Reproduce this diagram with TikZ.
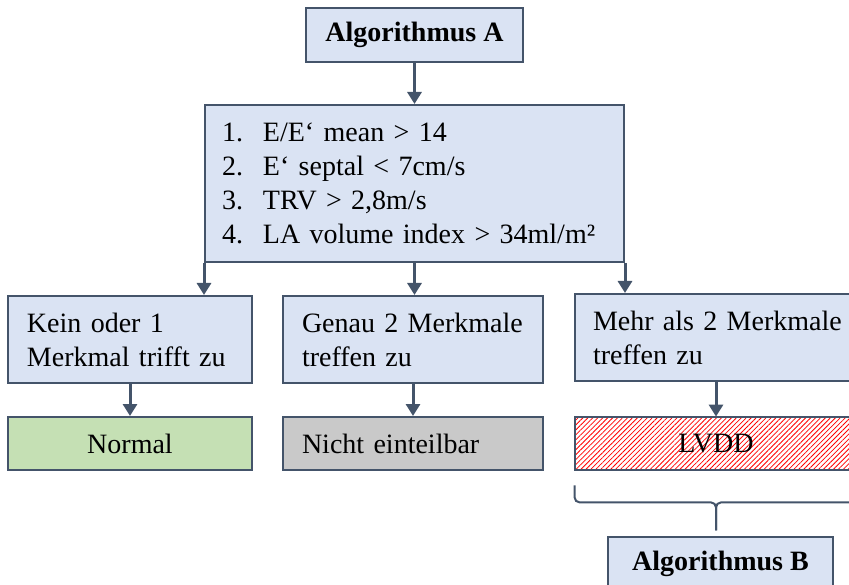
\documentclass[tikz,border=0pt]{standalone}
\usepackage{fontspec}
\setmainfont{Liberation Serif}
\usetikzlibrary{positioning}
\usetikzlibrary{arrows.meta}
\usetikzlibrary{patterns.meta}
\definecolor{boxblue}{HTML}{DAE3F3}
\definecolor{boxline}{HTML}{44546A}
\definecolor{boxgreen}{HTML}{C5E0B4}
\definecolor{boxgray}{HTML}{C9C9C9}
\tikzset{
    algnode/.style = {rectangle, line width=2pt, draw=boxline, fill=boxblue, align=center, inner sep=0pt, font=\fontsize{28}{34}\selectfont\bfseries},
    critnode/.style = {rectangle, line width=2pt, draw=boxline, fill=boxblue, align=left, inner xsep=17pt, inner ysep=0pt, font=\fontsize{28}{34}\selectfont},
    casenode/.style = {rectangle, line width=2pt, draw=boxline, fill=boxblue, align=left, inner xsep=19pt, inner ysep=0pt, minimum height=87pt, font=\fontsize{28}{34}\selectfont},
    resnodeg/.style = {rectangle, line width=2pt, draw=boxline, fill=boxgreen, align=center, inner sep=0pt, minimum height=53pt, font=\fontsize{28}{34}\selectfont},
    resnodegr/.style = {rectangle, line width=2pt, draw=boxline, fill=boxgray, align=left, inner xsep=19pt, inner ysep=0pt, minimum height=53pt, font=\fontsize{28}{34}\selectfont},
    resnoder/.style = {rectangle, line width=2pt, draw=boxline, fill=white, pattern={Lines[angle=45,distance=3.5pt,line width=0.8pt]}, pattern color=red, align=center, inner sep=0pt, minimum height=53pt, font=\fontsize{28}{34}\selectfont},
    edgen/.style = {-{Triangle[width=14pt,length=12pt]}, line width=3pt, boxline},
    bracen/.style = {line width=2pt, boxline, rounded corners=5pt}
}

\begin{document}
\begin{tikzpicture}[x=1pt,y=-1pt]
  \clip (0,0) rectangle (849,585);
  \node (algA) at (414.5,35) [algnode,minimum width=217pt,minimum height=54pt] {Algorithmus A};
  \node (crit) at (414.5,183.5) [critnode,text width=385pt,minimum height=157pt]
    {\makebox[41pt][l]{1.}E/E‘ mean > 14\\
     \makebox[41pt][l]{2.}E‘ septal < 7cm/s\\
     \makebox[41pt][l]{3.}TRV > 2,8m/s\\
     \makebox[41pt][l]{4.}LA volume index > 34ml/m²};
  \node (case1) at (130,339.5) [casenode,text width=206pt] {Kein oder 1\\Merkmal trifft zu};
  \node (case2) at (413,339.5) [casenode,text width=222pt] {Genau 2 Merkmale\\treffen zu};
  \node (case3) at (716,337.5) [casenode,inner xsep=18pt,text width=246pt] {\mbox{Mehr als 2 Merkmale}\\treffen zu};
  \node (normal) at (130,443.5) [resnodeg,minimum width=244pt] {Normal};
  \node (nicht) at (413,443.5) [resnodegr,text width=222pt] {Nicht einteilbar};
  \node (lvdd) at (716,443.5) [resnoder,minimum width=282pt] {LVDD};
  \node (algB) at (720.5,564) [algnode,minimum width=225pt,minimum height=54pt] {Algorithmus B};

  \draw[edgen] (algA) -- (crit);
  \draw[edgen] (crit.south west) -- (crit.south west |- case1.north);
  \draw[edgen] (crit.south) -- (crit.south |- case2.north);
  \draw[edgen] (crit.south east) -- (crit.south east |- case3.north);
  \draw[edgen] (case1) -- (normal);
  \draw[edgen] (case2) -- (nicht);
  \draw[edgen] (case3) -- (lvdd);

  % brace under LVDD
  \coordinate (brl) at ([yshift=-15pt]lvdd.south west);
  \coordinate (brr) at ([yshift=-15pt]lvdd.south east);
  \coordinate (brm) at ([yshift=-32pt]lvdd.south);
  \coordinate (brt) at ([yshift=-60pt]lvdd.south);
  \draw[bracen] (brl) -- (brl |- brm) -- (brm) -- (brt);
  \draw[bracen] (brr) -- (brr |- brm) -- (brm) -- (brt);
\end{tikzpicture}
\end{document}
